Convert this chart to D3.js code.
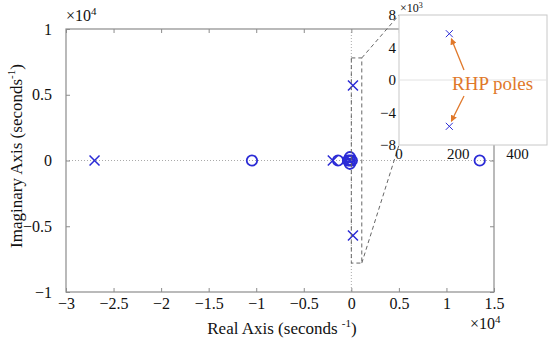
<!DOCTYPE html>
<html><head><meta charset="utf-8">
<script src="https://cdn.jsdelivr.net/npm/d3@7"></script>
<style>body{margin:0;background:#fff}svg{display:block}svg text{font-family:"Liberation Serif","DejaVu Serif","Times New Roman",serif !important}</style>
</head><body>
<svg id="c" width="550" height="341" font-family="Liberation Serif, serif"></svg>
<script>
// ---- data (seconds^-1) ----
const poleRe = [-27000, -1950, 170, 170, -200, -100];
const poleIm = [0, 0, 5700, -5700, 0, 0];
const zeroRe = [-10450, -1400, -350, 50, -150, -150, -150, 13500];
const zeroIm = [0, 0, 0, 0, 250, -250, 0, 0];
const xTicks = [-3, -2.5, -2, -1.5, -1, -0.5, 0, 0.5, 1, 1.5];       // x10^4
const yTicks = [1, 0.5, 0, -0.5, -1];                               // x10^4
const insetXTicks = [0, 200, 400];
const insetYTicks = [8, 4, 0, -4, -8];                              // x10^3
const rhpRe = [170, 170];
const rhpIm = [5700, -5700];
const zoomBoxRe = [0, 1100];
const zoomBoxIm = [-7800, 7800];

const FONT = "Liberation Serif, DejaVu Serif, serif";
const svg = d3.select("#c");
const blue = "#2b2bd6", axisCol = "#8c8c8c", orange = "#e0782a";
const x = d3.scaleLinear().domain([-30000, 15000]).range([66, 494]);
const y = d3.scaleLinear().domain([-10000, 10000]).range([292, 29]);

// frame
svg.append("rect").attr("x", 66).attr("y", 29).attr("width", 428).attr("height", 263)
  .attr("fill", "none").attr("stroke", axisCol).attr("stroke-width", 1.2);
// zero lines
svg.append("line").attr("x1", x(-30000)).attr("x2", x(15000)).attr("y1", y(0)).attr("y2", y(0))
  .attr("stroke", "#aaa").attr("stroke-dasharray", "1,2");
svg.append("line").attr("x1", x(0)).attr("x2", x(0)).attr("y1", y(10000)).attr("y2", y(-10000))
  .attr("stroke", "#aaa").attr("stroke-dasharray", "1,2");

// ticks (inward) via axes
const fmt = d => d3.format("")(d).replace("-", "\u2212");
const gb = svg.append("g").attr("transform", `translate(0,${y(-10000)})`)
  .call(d3.axisBottom(x).tickValues(xTicks.map(v => v * 1e4)).tickSize(-4).tickPadding(4).tickFormat(d => fmt(d / 1e4)));
const gt = svg.append("g").attr("transform", `translate(0,${y(10000)})`)
  .call(d3.axisTop(x).tickValues(xTicks.map(v => v * 1e4)).tickSize(-4).tickFormat(""));
const gl = svg.append("g").attr("transform", `translate(${x(-30000)},0)`)
  .call(d3.axisLeft(y).tickValues(yTicks.map(v => v * 1e4)).tickSize(-4).tickPadding(14).tickFormat(d => fmt(d / 1e4)));
const gr = svg.append("g").attr("transform", `translate(${x(15000)},0)`)
  .call(d3.axisRight(y).tickValues(yTicks.map(v => v * 1e4)).tickSize(-4).tickFormat(""));
[gb, gt, gl, gr].forEach(g => {
  g.attr("font-family", FONT);
  g.select(".domain").remove();
  g.selectAll("line").attr("stroke", axisCol);
  g.selectAll("text").attr("font-size", 16).attr("fill", "#111");
});
gb.selectAll("text").attr("dy", "0.8em");

// exponent labels
const exp = (xx, yy, p) => {
  const t = svg.append("text").attr("x", xx).attr("y", yy).attr("font-size", 16).attr("fill", "#111");
  t.append("tspan").text("\u00d710");
  t.append("tspan").attr("font-size", 11).attr("dy", -6).text(p);
};
exp(66, 21, "4");
exp(470, 329, "4");

// axis titles
const xl = svg.append("text").attr("x", 282).attr("y", 334).attr("text-anchor", "middle").attr("font-size", 17).attr("fill", "#111");
xl.append("tspan").text("Real Axis (seconds ");
xl.append("tspan").attr("font-size", 11).attr("dy", -7).text("-1");
xl.append("tspan").attr("dy", 7).text(")");
const yl = svg.append("text").attr("transform", "translate(22,156) rotate(-90)").attr("text-anchor", "middle").attr("font-size", 17).attr("fill", "#111");
yl.append("tspan").text("Imaginary Axis (seconds");
yl.append("tspan").attr("font-size", 11).attr("dy", -7).text("-1");
yl.append("tspan").attr("dy", 7).text(")");

// markers
const cross = (g, cx, cy, s, w) => {
  g.append("path").attr("d", `M${cx - s},${cy - s}L${cx + s},${cy + s}M${cx - s},${cy + s}L${cx + s},${cy - s}`)
    .attr("stroke", blue).attr("stroke-width", w).attr("fill", "none");
};
const mg = svg.append("g");
zeroRe.forEach((r, i) => mg.append("circle").attr("cx", x(r)).attr("cy", y(zeroIm[i])).attr("r", 5.2)
  .attr("fill", "none").attr("stroke", blue).attr("stroke-width", 1.8));
poleRe.forEach((r, i) => cross(mg, x(r), y(poleIm[i]), 5, 1.5));

// inset
const ix = d3.scaleLinear().domain([0, 500]).range([399, 547]);
const iy = d3.scaleLinear().domain([-8000, 8000]).range([145, 15]);

// zoom box & connectors
const dash = { stroke: "#666", "stroke-dasharray": "4,3", "stroke-width": 1, fill: "none" };
const applyA = (s, a) => { Object.entries(a).forEach(([k, v]) => s.attr(k, v)); return s; };
applyA(svg.append("path").attr("d",
  `M${x(zoomBoxRe[0])},${y(zoomBoxIm[1])}H${x(zoomBoxRe[1])}V${y(zoomBoxIm[0])}H${x(zoomBoxRe[0])}Z`), dash);
applyA(svg.append("line").attr("x1", x(zoomBoxRe[1])).attr("y1", y(zoomBoxIm[1])).attr("x2", ix(0)).attr("y2", iy(8000)), dash);
applyA(svg.append("line").attr("x1", x(zoomBoxRe[1])).attr("y1", y(zoomBoxIm[0])).attr("x2", ix(0)).attr("y2", iy(-8000)), dash);

svg.append("rect").attr("x", ix(0)).attr("y", iy(8000)).attr("width", ix(500) - ix(0)).attr("height", iy(-8000) - iy(8000))
  .attr("fill", "#fff").attr("stroke", "#c8c8c8").attr("stroke-width", 1);
svg.append("line").attr("x1", ix(0)).attr("x2", ix(500)).attr("y1", iy(0)).attr("y2", iy(0))
  .attr("stroke", "#e2e2e2").attr("stroke-width", 1);

const ig = svg.append("g");
insetYTicks.forEach(v => ig.append("text").attr("x", 396).attr("y", iy(v * 1000)).attr("dy", "0.35em")
  .attr("text-anchor", "end").attr("font-size", 15).attr("fill", "#111").text(fmt(v)));
insetXTicks.forEach(v => ig.append("text").attr("x", ix(v)).attr("y", 159).attr("text-anchor", "middle")
  .attr("font-size", 15).attr("fill", "#111").text(v));
const e3 = ig.append("text").attr("x", 400).attr("y", 12).attr("font-size", 12).attr("fill", "#111");
e3.append("tspan").text("\u00d710");
e3.append("tspan").attr("font-size", 8).attr("dy", -4).text("3");

rhpRe.forEach((r, i) => cross(ig, ix(r), iy(rhpIm[i]), 3.5, 1));

// annotation
svg.append("defs").append("marker").attr("id", "ah").attr("viewBox", "0 0 10 10").attr("refX", 9).attr("refY", 5)
  .attr("markerWidth", 5).attr("markerHeight", 5).attr("orient", "auto-start-reverse")
  .append("path").attr("d", "M0,0L10,5L0,10Z").attr("fill", orange);
ig.append("text").attr("x", 452).attr("y", 90).attr("font-size", 19).attr("fill", orange).text("RHP poles");
ig.append("line").attr("x1", 464).attr("y1", 70).attr("x2", ix(rhpRe[0]) + 2).attr("y2", iy(rhpIm[0]) + 5)
  .attr("stroke", orange).attr("stroke-width", 1.3).attr("marker-end", "url(#ah)");
ig.append("line").attr("x1", 464).attr("y1", 96).attr("x2", ix(rhpRe[1]) + 2).attr("y2", iy(rhpIm[1]) - 5)
  .attr("stroke", orange).attr("stroke-width", 1.3).attr("marker-end", "url(#ah)");
</script>
</body></html>
